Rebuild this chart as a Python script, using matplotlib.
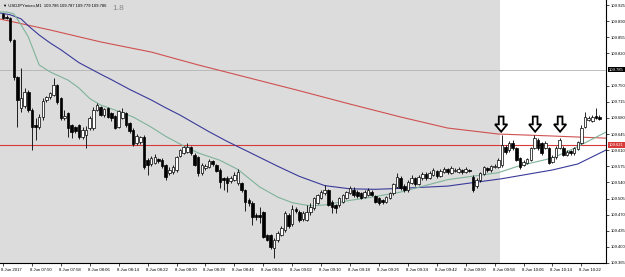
import matplotlib
matplotlib.use('Agg')
import matplotlib.pyplot as plt
from matplotlib.patches import FancyArrow
import matplotlib.transforms as mtransforms

plt.rcParams['font.family'] = ['Liberation Sans', 'DejaVu Sans']

# USDJPY M1 candles, 07:42 .. 10:27
opens = [
    109.906, 109.899, 109.897, 109.849, 109.769, 109.701, 109.706, 109.737, 109.697, 109.665,
    109.660, 109.682, 109.719, 109.726, 109.730, 109.752, 109.723, 109.680, 109.690, 109.665,
    109.660, 109.665, 109.639, 109.643, 109.658, 109.658, 109.697, 109.704, 109.686, 109.701,
    109.690, 109.684, 109.660, 109.680, 109.690, 109.669, 109.654, 109.626, 109.628, 109.639,
    109.589, 109.580, 109.582, 109.591, 109.589, 109.578, 109.561, 109.563, 109.567, 109.597,
    109.604, 109.606, 109.617, 109.600, 109.595, 109.561, 109.571, 109.574, 109.587, 109.578,
    109.567, 109.550, 109.550, 109.543, 109.545, 109.539, 109.539, 109.524, 109.502, 109.495,
    109.469, 109.469, 109.476, 109.426, 109.426, 109.398, 109.415, 109.426, 109.437, 109.469,
    109.450, 109.482, 109.476, 109.461, 109.459, 109.476, 109.485, 109.495, 109.506, 109.517,
    109.524, 109.498, 109.491, 109.491, 109.498, 109.506, 109.517, 109.524, 109.519, 109.517,
    109.508, 109.513, 109.519, 109.511, 109.506, 109.502, 109.498, 109.506, 109.517, 109.530,
    109.550, 109.532, 109.524, 109.539, 109.550, 109.537, 109.550, 109.558, 109.550, 109.556,
    109.565, 109.554, 109.563, 109.569, 109.561, 109.565, 109.563, 109.567, 109.563, 109.567,
    109.552, 109.532, 109.545, 109.558, 109.571, 109.567, 109.574, 109.574, 109.578, 109.617,
    109.611, 109.626, 109.615, 109.593, 109.578, 109.582, 109.589, 109.615, 109.632, 109.626,
    109.615, 109.615, 109.585, 109.595, 109.615, 109.615, 109.600, 109.608, 109.604, 109.613,
    109.626, 109.660, 109.676, 109.673, 109.684, 109.682,
]
highs = [
    109.908, 109.903, 109.899, 109.851, 109.771, 109.788, 109.745, 109.741, 109.701, 109.680,
    109.688, 109.723, 109.728, 109.737, 109.767, 109.754, 109.726, 109.697, 109.693, 109.667,
    109.662, 109.667, 109.660, 109.662, 109.684, 109.704, 109.713, 109.706, 109.701, 109.704,
    109.693, 109.686, 109.697, 109.701, 109.693, 109.671, 109.658, 109.645, 109.641, 109.643,
    109.593, 109.597, 109.602, 109.593, 109.593, 109.580, 109.574, 109.578, 109.597, 109.613,
    109.619, 109.626, 109.619, 109.604, 109.597, 109.582, 109.580, 109.591, 109.589, 109.580,
    109.571, 109.552, 109.554, 109.554, 109.563, 109.569, 109.541, 109.526, 109.506, 109.500,
    109.474, 109.487, 109.478, 109.428, 109.428, 109.419, 109.435, 109.446, 109.478, 109.474,
    109.491, 109.487, 109.480, 109.478, 109.491, 109.495, 109.508, 109.515, 109.524, 109.535,
    109.526, 109.502, 109.493, 109.508, 109.515, 109.521, 109.532, 109.530, 109.524, 109.519,
    109.524, 109.528, 109.524, 109.513, 109.508, 109.504, 109.511, 109.519, 109.539, 109.561,
    109.554, 109.537, 109.545, 109.556, 109.552, 109.556, 109.563, 109.563, 109.565, 109.571,
    109.567, 109.569, 109.574, 109.571, 109.576, 109.571, 109.574, 109.569, 109.574, 109.569,
    109.556, 109.550, 109.563, 109.576, 109.574, 109.578, 109.580, 109.593, 109.643, 109.621,
    109.630, 109.632, 109.617, 109.595, 109.589, 109.593, 109.617, 109.643, 109.636, 109.628,
    109.630, 109.617, 109.600, 109.619, 109.636, 109.619, 109.611, 109.611, 109.617, 109.630,
    109.665, 109.693, 109.684, 109.686, 109.701, 109.686,
]
lows = [
    109.895, 109.895, 109.845, 109.762, 109.660, 109.693, 109.701, 109.693, 109.611, 109.632,
    109.656, 109.676, 109.715, 109.721, 109.728, 109.710, 109.676, 109.676, 109.639, 109.636,
    109.647, 109.634, 109.634, 109.615, 109.654, 109.654, 109.695, 109.684, 109.682, 109.680,
    109.673, 109.656, 109.658, 109.678, 109.660, 109.647, 109.619, 109.621, 109.623, 109.569,
    109.556, 109.576, 109.580, 109.582, 109.571, 109.545, 109.556, 109.558, 109.563, 109.595,
    109.602, 109.604, 109.600, 109.576, 109.554, 109.556, 109.567, 109.571, 109.576, 109.563,
    109.528, 109.524, 109.519, 109.539, 109.543, 109.535, 109.519, 109.478, 109.489, 109.448,
    109.459, 109.452, 109.419, 109.413, 109.396, 109.376, 109.411, 109.424, 109.433, 109.441,
    109.446, 109.474, 109.454, 109.456, 109.456, 109.469, 109.480, 109.493, 109.504, 109.513,
    109.489, 109.474, 109.474, 109.487, 109.495, 109.504, 109.515, 109.508, 109.506, 109.504,
    109.506, 109.511, 109.511, 109.495, 109.491, 109.493, 109.495, 109.504, 109.513, 109.528,
    109.524, 109.519, 109.519, 109.537, 109.532, 109.535, 109.545, 109.545, 109.548, 109.554,
    109.550, 109.552, 109.561, 109.558, 109.558, 109.563, 109.561, 109.558, 109.561, 109.563,
    109.519, 109.528, 109.541, 109.556, 109.563, 109.563, 109.571, 109.571, 109.574, 109.602,
    109.606, 109.611, 109.587, 109.569, 109.576, 109.580, 109.587, 109.613, 109.611, 109.600,
    109.613, 109.580, 109.582, 109.591, 109.613, 109.597, 109.597, 109.600, 109.600, 109.611,
    109.623, 109.658, 109.673, 109.671, 109.678, 109.676,
]
closes = [
    109.897, 109.897, 109.849, 109.769, 109.719, 109.723, 109.737, 109.697, 109.660, 109.660,
    109.682, 109.717, 109.726, 109.734, 109.752, 109.715, 109.680, 109.684, 109.658, 109.650,
    109.652, 109.639, 109.654, 109.654, 109.680, 109.697, 109.708, 109.686, 109.699, 109.682,
    109.680, 109.658, 109.695, 109.693, 109.665, 109.652, 109.623, 109.641, 109.639, 109.574,
    109.578, 109.593, 109.595, 109.587, 109.576, 109.552, 109.567, 109.574, 109.595, 109.611,
    109.617, 109.617, 109.604, 109.578, 109.561, 109.578, 109.576, 109.587, 109.580, 109.565,
    109.541, 109.545, 109.539, 109.550, 109.556, 109.563, 109.524, 109.498, 109.495, 109.465,
    109.465, 109.465, 109.422, 109.415, 109.400, 109.415, 109.430, 109.441, 109.474, 109.446,
    109.482, 109.478, 109.459, 109.474, 109.476, 109.487, 109.506, 109.513, 109.519, 109.524,
    109.491, 109.487, 109.485, 109.506, 109.513, 109.519, 109.528, 109.513, 109.511, 109.506,
    109.519, 109.524, 109.513, 109.498, 109.495, 109.498, 109.508, 109.517, 109.537, 109.552,
    109.528, 109.524, 109.541, 109.550, 109.537, 109.552, 109.558, 109.550, 109.561, 109.567,
    109.554, 109.565, 109.569, 109.563, 109.571, 109.567, 109.569, 109.563, 109.569, 109.565,
    109.524, 109.545, 109.561, 109.574, 109.567, 109.576, 109.576, 109.589, 109.621, 109.606,
    109.626, 109.615, 109.589, 109.574, 109.585, 109.591, 109.615, 109.636, 109.615, 109.604,
    109.626, 109.582, 109.595, 109.615, 109.632, 109.600, 109.606, 109.604, 109.615, 109.628,
    109.658, 109.682, 109.680, 109.682, 109.680, 109.678,
]

# moving averages (bar index, price)
red_bars = [-1, 13, 27, 41, 54, 68, 82, 96, 110, 123, 137, 151, 167]
red_ma = [109.895, 109.871, 109.845, 109.823, 109.795, 109.767, 109.739, 109.710,
          109.682, 109.658, 109.645, 109.641, 109.636]
blue_bars = [-1, 2, 5, 7, 10, 13, 16, 21, 27, 30, 35, 41, 45, 49, 57, 62, 68, 76, 82,
             89, 96, 103, 110, 123, 138, 152, 159, 167]
blue_ma = [109.908, 109.904, 109.895, 109.880, 109.860, 109.843, 109.828, 109.800,
           109.775, 109.763, 109.742, 109.719, 109.702, 109.686, 109.650, 109.629,
           109.606, 109.575, 109.553, 109.533, 109.526, 109.525, 109.527, 109.532,
           109.548, 109.567, 109.580, 109.611]
green_bars = [-1, 1, 3, 5, 7, 10, 13, 18, 21, 24, 27, 31, 36, 41, 45, 50, 54, 60, 65,
              71, 76, 80, 85, 89, 96, 102, 110, 123, 137, 142, 146, 152, 158, 167]
green_ma = [109.910, 109.910, 109.906, 109.882, 109.856, 109.795, 109.780, 109.762,
            109.745, 109.722, 109.708, 109.697, 109.682, 109.660, 109.640, 109.619,
            109.604, 109.588, 109.568, 109.530, 109.508, 109.496, 109.489, 109.491,
            109.501, 109.508, 109.519, 109.546, 109.561, 109.574, 109.582, 109.593,
            109.614, 109.650]

hline_price = 109.785
level_price = 109.621
shade_end = 137.5
arrow_bars = [137.8, 147.2, 154.1]
arrow_top = 109.683
arrow_tip = 109.650

yticks = [109.925, 109.890, 109.855, 109.820, 109.750, 109.715, 109.680, 109.645,
          109.610, 109.575, 109.540, 109.505, 109.470, 109.435, 109.400, 109.365]
xtick_bars = list(range(0, 161, 8))
xtick_labels = ['8 Jun 2017', '8 Jun 07:50', '8 Jun 07:58', '8 Jun 08:06', '8 Jun 08:14',
                '8 Jun 08:22', '8 Jun 08:30', '8 Jun 08:38', '8 Jun 08:46', '8 Jun 08:54',
                '8 Jun 09:02', '8 Jun 09:10', '8 Jun 09:18', '8 Jun 09:26', '8 Jun 09:34',
                '8 Jun 09:42', '8 Jun 09:50', '8 Jun 09:58', '8 Jun 10:06', '8 Jun 10:14',
                '8 Jun 10:22']

fig = plt.figure(figsize=(6.25, 2.77), dpi=100)
ax = fig.add_axes([0, 14 / 277, 606 / 625, 263 / 277])
ax.set_xlim(-0.83, 166.8)
ax.set_ylim(109.365, 109.936)

ax.axvspan(-5, shade_end, color='#dcdcdc', lw=0, zorder=0)
ax.axhline(hline_price, color='#b4b4b4', lw=0.6, zorder=1)
ax.axhline(level_price, color='#d83a3a', lw=0.8, zorder=1)

ax.plot(red_bars, red_ma, color='#d05050', lw=0.8, zorder=2)
ax.plot(blue_bars, blue_ma, color='#3a3a9a', lw=0.8, zorder=2)
ax.plot(green_bars, green_ma, color='#7fb39a', lw=0.8, zorder=2)

n = len(closes)
xs = list(range(n))
ax.vlines(xs, lows, highs, color='black', lw=0.6, zorder=3)
for i in range(n):
    o, c = opens[i], closes[i]
    h = max(abs(c - o), 0.0008)
    if c >= o:
        ax.bar(i, h, bottom=min(o, c), width=0.7, color='white', edgecolor='black',
               lw=0.5, zorder=4)
    else:
        ax.bar(i, h, bottom=min(o, c), width=0.7, color='black', edgecolor='black',
               lw=0.5, zorder=4)

for b in arrow_bars:
    ax.add_patch(FancyArrow(b, arrow_top, 0, arrow_tip - arrow_top, width=1.3,
                            head_width=3.4, head_length=0.016, length_includes_head=True,
                            facecolor='white', edgecolor='black', lw=1.3, zorder=6))

for s in ['left', 'top']:
    ax.spines[s].set_visible(False)
for s in ['right', 'bottom']:
    ax.spines[s].set_linewidth(0.8)

ax.yaxis.tick_right()
ax.set_yticks(yticks)
ax.set_yticklabels(['%.3f' % v for v in yticks])
ax.tick_params(axis='y', labelsize=3.0, length=2, width=0.5, pad=1.2)
ax.set_xticks(xtick_bars)
ax.set_xticklabels(xtick_labels, ha='left')
ax.tick_params(axis='x', labelsize=3.1, length=2, width=0.5, pad=1.5)
off = mtransforms.ScaledTranslation(-2 / 100, 0, fig.dpi_scale_trans)
for lab in ax.get_xticklabels():
    lab.set_transform(lab.get_transform() + off)

tr = mtransforms.blended_transform_factory(ax.transAxes, ax.transData)
ax.text(1.005, hline_price, '109.785', transform=tr, fontsize=3.0, color='white',
        va='center', ha='left', bbox=dict(facecolor='black', edgecolor='none', pad=0.6),
        zorder=7, clip_on=False)
ax.text(1.005, level_price, '109.621', transform=tr, fontsize=3.0, color='white',
        va='center', ha='left', bbox=dict(facecolor='#d83a3a', edgecolor='none', pad=0.6),
        zorder=7, clip_on=False)

ax.text(0.005, 0.985, '\u25bc USDJPYmicro,M1  109.786 109.787 109.779 109.786',
        transform=ax.transAxes, fontsize=3.0, va='top', ha='left', zorder=7,
        family=['Liberation Sans', 'DejaVu Sans'])
ax.text(0.185, 0.982, '1.8', transform=ax.transAxes, fontsize=6, color='#888888',
        va='top', ha='left', zorder=7)

fig.savefig('out.png', dpi=100)
